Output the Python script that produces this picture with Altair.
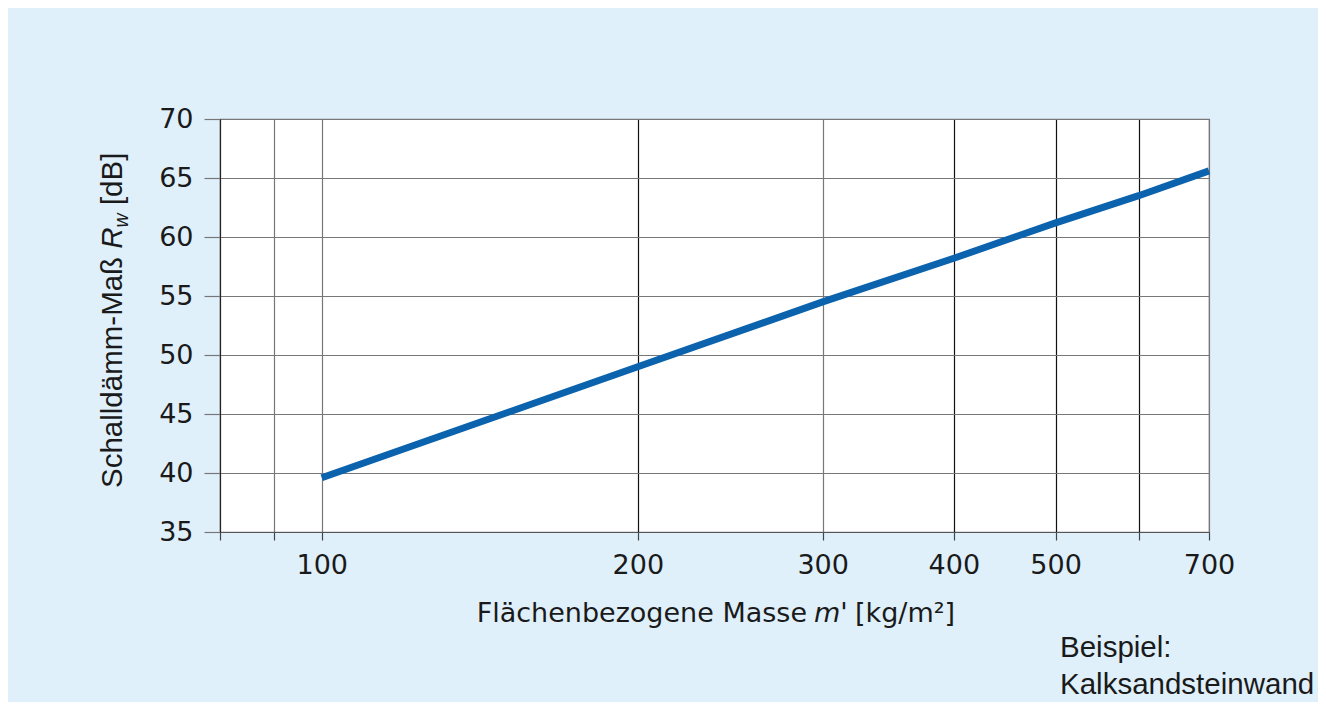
import altair as alt
import pandas as pd

# data
masse = [100, 200, 300, 400, 500, 600, 700]
rw = [39.6, 49.0, 54.5, 58.2, 61.2, 63.5, 65.6]

x_ticks = [80, 90, 100, 200, 300, 400, 500, 600, 700]
x_labels = [100, 200, 300, 400, 500, 700]
y_ticks = [35, 40, 45, 50, 55, 60, 65, 70]
notes = ["Beispiel:", "Kalksandsteinwand"]

df = pd.DataFrame({"m": masse, "rw": rw})

W, H = 989, 413
INK = "#1a1a1a"

label_test = " || ".join(f"datum.value == {v}" for v in x_labels)


def label(txt, x, y, size, font="Liberation Sans", style="normal", align="left", angle=0):
    return alt.Chart(pd.DataFrame({"t": [txt]})).mark_text(
        align=align, baseline="alphabetic", font=font, fontSize=size,
        fontStyle=style, color=INK, angle=angle,
    ).encode(text="t:N", x=alt.value(x), y=alt.value(y))


line = alt.Chart(df).mark_line(color="#0b63ae", strokeWidth=7, strokeCap="butt").encode(
    x=alt.X(
        "m:Q",
        scale=alt.Scale(type="log", domain=[80, 700], nice=False),
        axis=alt.Axis(
            values=x_ticks,
            labelExpr=f"({label_test}) ? datum.label : ''",
            title="",
            labelFont="DejaVu Sans",
            labelFontSize=27,
            labelColor=INK,
            labelBaseline="alphabetic",
            labelPadding=33,
            labelFlush=False,
            labelOverlap=False,
            tickSize=8,
            tickColor="#444",
            domainColor="#555",
            gridColor={"condition": {"test": "datum.value == 200 || datum.value == 400 || datum.value == 500 || datum.value == 600 || datum.value == 80", "value": "#111"}, "value": "#777"},
            gridWidth=1.2,
            tickWidth=1.2,
        ),
    ),
    y=alt.Y(
        "rw:Q",
        scale=alt.Scale(domain=[35, 70], nice=False),
        axis=alt.Axis(
            values=y_ticks,
            title="",
            labelFont="DejaVu Sans",
            labelFontSize=27,
            labelColor=INK,
            labelPadding=11,
            tickSize=16,
            tickColor="#777",
            domainColor="#222",
            gridColor="#777",
            gridWidth=1.2,
            tickWidth=1.2,
        ),
    ),
)

# x-axis title: "Flächenbezogene Masse m' [kg/m²]" with italic m'
XT_Y = 503
XFS = 27
xt1 = label("Flächenbezogene Masse", 587, XT_Y, XFS, font="DejaVu Sans", align="right")
xt2 = label("m'", 594, XT_Y, XFS, font="DejaVu Sans", style="italic")
xt3 = label("[kg/m²]", 635, XT_Y, XFS, font="DejaVu Sans")

# y-axis title: "Schalldämm-Maß R_w [dB]" with italic R and subscript w
YT_X = -98
fs = 29.5
y0 = 369
w1 = 8.112 * fs
w2 = 0.722 * fs
w3 = 0.722 * 19.5
sp = 0.278 * fs
yt1 = label("Schalldämm-Maß", YT_X, y0, fs, angle=270)
yt2 = label("R", YT_X, y0 - w1, fs, style="italic", angle=270)
yt3 = label("w", YT_X + 6, y0 - w1 - w2, 19.5, style="italic", angle=270)
yt4 = label("[dB]", YT_X, y0 - w1 - w2 - w3 - sp, fs, angle=270)

n1 = label(notes[0], 840, 538, 29.5)
n2 = label(notes[1], 840, 575, 29.5)

chart = alt.layer(line, xt1, xt2, xt3, yt1, yt2, yt3, yt4, n1, n2).properties(
    width=W,
    height=H,
    autosize=alt.AutoSizeParams(type="none"),
    padding={"left": 212, "top": 111, "right": 109, "bottom": 170},
    background="#dff0fb",
).configure_view(fill="white", stroke="#777", strokeWidth=1.2)

chart.save("out.html", embed_options={"renderer": "svg", "actions": False})
